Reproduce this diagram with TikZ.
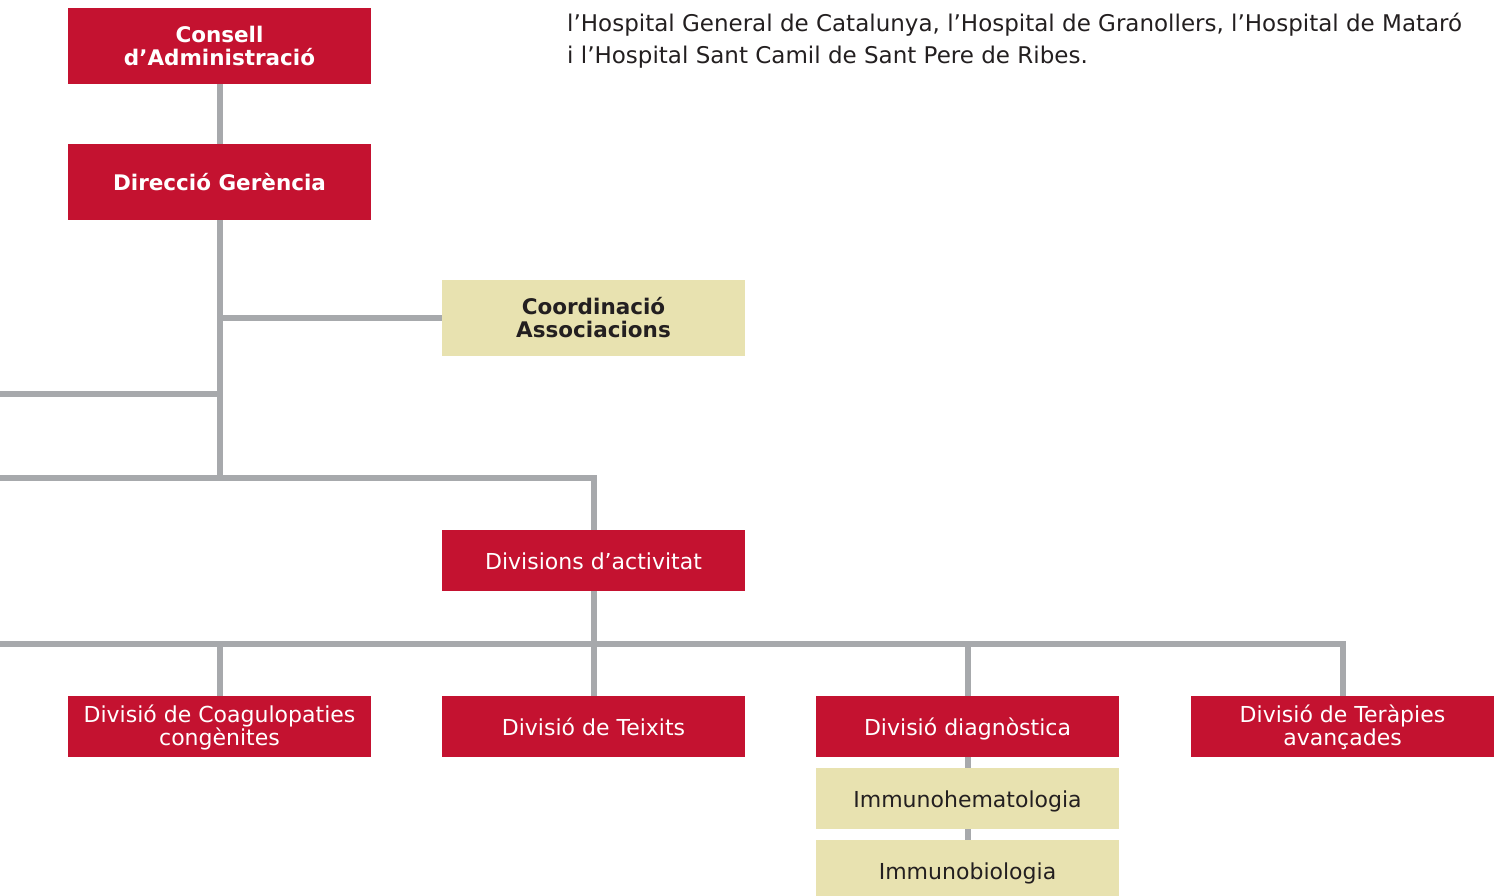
\documentclass[tikz,border=0pt]{standalone}
\usepackage{fontspec}
\setmainfont{DejaVu Sans}
\definecolor{redbox}{HTML}{C41230}
\definecolor{beige}{HTML}{E8E2B0}
\definecolor{conn}{HTML}{A7A9AC}
\definecolor{darktext}{HTML}{231F20}
\begin{document}
\begin{tikzpicture}[x=1pt,y=-1pt,
  box/.style={minimum width=303pt,inner sep=0pt,align=center,font=\fontsize{22}{23}\selectfont},
  redn/.style={box,fill=redbox,text=white},
  beigen/.style={box,fill=beige,text=darktext},
  boldt/.style={font=\bfseries\fontsize{21.5}{23}\selectfont},
  tall/.style={minimum height=76pt},
  short/.style={minimum height=61pt},
  oneline/.style={text height=18pt,text depth=1pt},
  twoline/.style={text depth=3pt},
  line/.style={draw=conn,line width=6pt,line join=miter},
  para/.style={anchor=base west,inner sep=0pt,text=darktext,font=\fontsize{23}{32}\selectfont}]
\useasboundingbox (0,0) rectangle (1501,895);
% paragraph
\node[para] (p1) at (567,31) {l’Hospital General de Catalunya, l’Hospital de Granollers, l’Hospital de Mataró};
\node[para] (p2) at (567,63) {i l’Hospital Sant Camil de Sant Pere de Ribes.};
% nodes
\node[redn,tall,boldt] (cons) at (219.5,46) {Consell\\d’Administració};
\node[redn,tall,boldt,oneline] (dir) at (219.5,182) {Direcció Gerència};
\node[beigen,tall,boldt] (coord) at (593.5,318) {Coordinació\\Associacions};
\node[redn,short,oneline] (div) at (593.5,560.5) {Divisions d’activitat};
\node[redn,short,twoline] (coag) at (219.5,726.5) {Divisió de Coagulopaties\\congènites};
\node[redn,short,oneline] (teix) at (593.5,726.5) {Divisió de Teixits};
\node[redn,short,oneline] (diag) at (967.5,726.5) {Divisió diagnòstica};
\node[redn,short,twoline] (ter) at (1342.5,726.5) {Divisió de Teràpies\\avançades};
\node[beigen,short,oneline] (ihem) at (967.5,798.5) {Immunohematologia};
\node[beigen,short,oneline] (ibio) at (967.5,870.5) {Immunobiologia};
% free ends at the left edge
\coordinate (l1) at (0,394);
\coordinate (l2) at (0,478);
\coordinate (l3) at (0,644);
% connectors
\draw[line] (cons.south) -- (dir.north);
\draw[line] (dir.south) -- (dir.south |- l2);
\draw[line] (dir.south |- coord.west) -- (coord.west);
\draw[line] (l1) -- (dir.south |- l1);
\draw[line] (l2) -- (div.north |- l2) -- (div.north);
\draw[line] (div.south) -- (div.south |- l3);
\draw[line] (l3) -- (ter.north |- l3) -- (ter.north);
\draw[line] (coag.north) -- (coag.north |- l3);
\draw[line] (teix.north) -- (teix.north |- l3);
\draw[line] (diag.north) -- (diag.north |- l3);
\draw[line] (diag.south) -- (ihem.north);
\draw[line] (ihem.south) -- (ibio.north);
\end{tikzpicture}
\end{document}
